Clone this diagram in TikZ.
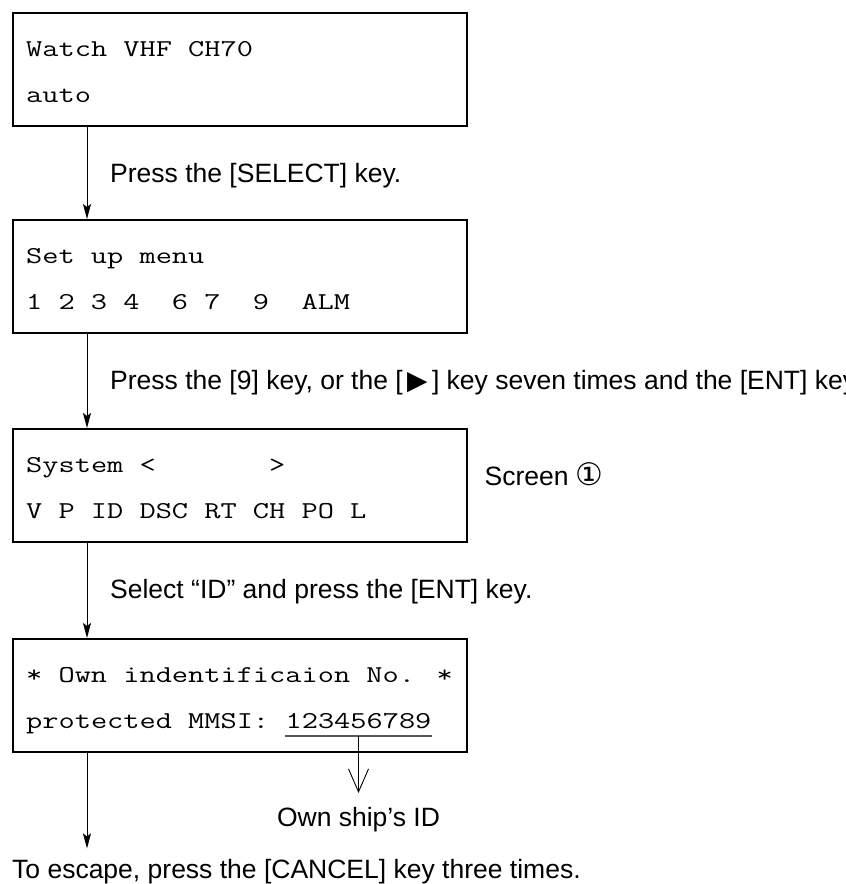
\documentclass[tikz,border=0pt]{standalone}
\usepackage{fontspec}
\setmainfont{Liberation Sans}
\newfontfamily\lcdfont{Latin Modern Mono}[FakeStretch=1.3]
\newfontfamily\symfont{DejaVu Sans}
\usetikzlibrary{arrows.meta, positioning}

\begin{document}
\begin{tikzpicture}[x=1pt, y=-1pt,
  lcdbox/.style={draw=black, line width=2.4pt, anchor=north west,
                 minimum width=454pt, minimum height=113pt, inner sep=0pt},
  lcd/.style={anchor=base west, inner sep=0pt,
              font=\lcdfont\fontsize{24.2}{30}\selectfont},
  note/.style={anchor=base west, inner sep=0pt,
               font=\fontsize{26.5}{30}\selectfont},
  arr/.style={-{Stealth[length=15pt, width=8pt, inset=3pt]}, line width=1pt},
  idarr/.style={-{Straight Barb[length=23pt, width=20pt]}, line width=0.9pt},
  uline/.style={draw=black!65, line width=1.6pt}
]
  \useasboundingbox (0,0) rectangle (846,884);
  \clip (0,0) rectangle (846,884);

  % ========== SCREEN 1: Watch ==========
  \node[lcdbox] (watch) at (12,12) {};
  \node[lcd] (watchA) at ([shift={(14,44)}]watch.north west) {Watch VHF CH70};
  \node[lcd] (watchB) at ([shift={(14,90)}]watch.north west) {auto};

  % ========== SCREEN 2: Set up menu ==========
  \node[lcdbox] (menu) at (12,219) {};
  \node[lcd] (menuA) at ([shift={(14,44)}]menu.north west) {Set up menu};
  \node[lcd] (menuB) at ([shift={(14,90)}]menu.north west)
    {1 2 3 4\ \ 6 7\ \ 9\ \ ALM};

  % ========== SCREEN 3: System ==========
  \node[lcdbox] (system) at (12,428) {};
  \node[lcd] (systemA) at ([shift={(14,44)}]system.north west)
    {System <\ \ \ \ \ \ \ >};
  \node[lcd] (systemB) at ([shift={(14,90)}]system.north west)
    {V P ID DSC RT CH PO L};
  \node[note] (scr) at ([shift={(16,57)}]system.north east)
    {Screen {\symfont\fontsize{31}{31}\selectfont ①}};

  % ========== SCREEN 4: Own ID ==========
  \node[lcdbox] (owner) at (12,638) {};
  \node[lcd] (ownerA) at ([shift={(14,44)}]owner.north west)
    {* Own indentificaion No. *};
  \node[lcd] (ownerB) at ([shift={(14,90)}]owner.north west)
    {protected MMSI:};
  \node[lcd] (mmsi) at ([xshift=16pt]ownerB.base east) {123456789};

  % ======== ARROWS between screens ========
  \draw[arr] ([xshift=75pt]watch.south west) -- ([xshift=75pt]menu.north west);
  \node[note] (step1) at ([shift={(98,55)}]watch.south west)
    {Press the [SELECT] key.};

  \draw[arr] ([xshift=75pt]menu.south west) -- ([xshift=75pt]system.north west);
  \node[note] (step2) at ([shift={(98,55)}]menu.south west)
    {Press the [9] key, or the [\,{\symfont ▶}\,] key seven times and the [ENT] key.};

  \draw[arr] ([xshift=75pt]system.south west) -- ([xshift=75pt]owner.north west);
  \node[note] (step3) at ([shift={(98,55)}]system.south west)
    {Select “ID” and press the [ENT] key.};

  % ======== ID pointer ========
  \draw[uline] ([yshift=-8pt]mmsi.base west) -- coordinate (ulmid)
    ([yshift=-8pt]mmsi.base east);
  \coordinate (idtip) at ([yshift=-57pt]ulmid);
  \draw[idarr] (ulmid) -- (idtip);
  \node[note, anchor=base] (shipid) at ([yshift=-90pt]ulmid) {Own ship’s ID};

  % ======== ESCAPE ========
  \coordinate (escend) at ([xshift=75pt, yshift=-95pt]owner.south west);
  \draw[arr] ([xshift=75pt]owner.south west) -- (escend);
  \node[note] (escape) at (12,878)
    {To escape, press the [CANCEL] key three times.};

\end{tikzpicture}
\end{document}
